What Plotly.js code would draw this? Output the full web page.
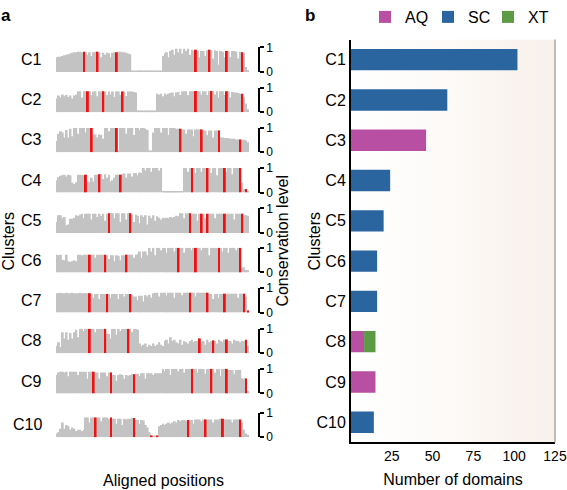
<!DOCTYPE html>
<html><head><meta charset="utf-8">
<script src="https://cdn.plot.ly/plotly-3.0.1.min.js"></script>
<style>html,body{margin:0;padding:0;background:#fff}#chart{width:567px;height:490px}</style>
</head><body><div id="chart"></div>
<script>
// ---------- Panel a: conservation profiles ----------
const clusters = ['C1','C2','C3','C4','C5','C6','C7','C8','C9','C10'];

const profC1 = [0.6,0.62,0.62,0.65, 0.68,0.7,0.72,0.75,0.78, 0.8,0.8,0.82,0.82,0.8, 0.82,
 0.8,0.7,0.8,0.65,0.8,0.82, 0.82, 0.78,0.6,0.78,0.7,0.78,0.76,0.6,0.78,0.8, 0.8,
 0.82,0.82,0.8,0.8,0.78,0.75,0.72, 0.03,0.03,0.03,0.03,0.03,0.03,0.03,0.03,0.03,0.03,0.03,0.03,0.03,0.03,0.03,0.03,
 0.65,0.75,0.8,0.6,0.85, 0.9,0.7,0.95,0.8,0.95,0.75,0.95,0.85,0.95,0.7,0.9,0.85, 0.9,
 0.85,0.6,0.85,0.85,0.65,0.88, 0.9, 0.88,0.55,0.88,0.85,0.3,0.85,0.82,0.6, 0.85,
 0.85,0.6,0.85,0.85,0.82,0.55,0.82, 0.8, 0.78,0.2,0.08];
const profC2 = [0.55,0.68,0.6,0.72,0.65, 0.7,0.62,0.68,0.55,0.68, 0.72,0.85,0.85,0.6,0.85,0.84, 0.85,
 0.85,0.7,0.84,0.84,0.65,0.85,0.84, 0.85, 0.84,0.7,0.84,0.72,0.84,0.62,0.84,0.84,0.7, 0.84,
 0.84,0.66,0.84,0.84,0.84,0.82,0.8, 0.03,0.03,0.03,0.03,0.03,0.03,0.03,0.03,0.03,0.03,
 0.75,0.72,0.75,0.65,0.76,0.7,0.75, 0.78,0.8,0.65,0.8,0.82,0.7,0.84, 0.85,0.85,0.7,0.85,0.85,0.85, 0.86,
 0.85,0.85,0.72,0.85,0.85,0.7,0.85, 0.86, 0.85,0.72,0.85,0.6,0.85,0.85,0.7, 0.85,
 0.84,0.6,0.82,0.8,0.8,0.78,0.75, 0.75, 0.6,0.35,0.12];
const profC3 = [0.45,0.75,0.85,0.8,0.6, 0.9,0.6,0.95,0.65, 0.98,0.98,0.75,0.98,0.98,0.98,0.8,0.98,0.98, 0.98,
 0.72,0.72,0.6,0.72,0.7,0.55, 0.98,0.98,0.85,0.98,0.98,0.98, 0.98, 0.05,
 0.98,0.98,0.98,0.75,0.98,0.98,0.98,0.7,0.98,0.98,0.9,0.98,0.98,0.95,0.9, 0.05,0.05,
 0.8,0.98,0.98,0.98,0.8,0.98,0.98,0.98,0.7,0.98,0.98,0.98,0.95,0.95, 0.95,
 0.92,0.92,0.75,0.92,0.92,0.92,0.65,0.92,0.92,0.92, 0.92,
 0.88,0.88,0.7,0.88,0.88,0.6,0.88,0.88, 0.88,
 0.6,0.6,0.58,0.58,0.58,0.55,0.55,0.55,0.52,0.52, 0.52, 0.5,0.5,0.48,0.4];
const profC4 = [0.5,0.62,0.68,0.7, 0.72,0.65,0.72,0.7, 0.4,0.35,0.42, 0.72,0.72,0.72,0.7, 0.72,
 0.45,0.42,0.6,0.45,0.72,0.72, 0.75, 0.75,0.55,0.75,0.6,0.72,0.45,0.5,0.6,0.72,0.72, 0.72,
 0.75,0.78,0.6,0.78,0.78,0.65,0.8,0.8,0.7,0.82,0.8, 1.0,0.9,1.0,1.0,0.85,1.0,1.0,1.0,0.9,1.0,
 0.03,0.03,0.03,0.03,0.03,0.03,0.03,0.03,0.03,0.03,0.03, 1.0,1.0,0.85,1.0, 1.0,
 1.0,0.8,1.0,1.0,0.85,1.0,1.0, 1.0, 1.0,0.8,1.0,1.0,0.7,1.0,1.0,1.0, 1.0,
 0.85,1.0,1.0,0.75,1.0,1.0,1.0, 1.0, 0.4,0.15,0.15,0.05];
const profC5 = [0.45,0.72,0.72,0.6, 0.65,0.32,0.35,0.58, 0.58,0.62,0.72,0.7, 0.75,0.78,0.6,0.78,0.78,
 0.78,0.55,0.78,0.78,0.65,0.78,0.7,0.78,0.5,0.78, 0.8, 0.8,0.8,0.6,0.8,0.8,0.45,0.8,0.8,0.55,0.8, 0.8,
 0.75,0.45,0.75,0.7,0.4,0.72,0.65,0.72,0.35,0.7,0.6,0.72,0.5,0.68,0.62,0.55,0.62,
 0.6,0.62,0.6,0.65,0.62,0.65,0.7,0.68,0.8,0.8,0.6, 0.8,0.8, 0.8, 0.7,0.78,0.78,0.5,0.78, 0.78,
 0.78,0.6, 0.78, 0.78,0.78,0.78,0.6,0.78,0.78,0.78,0.78, 0.78, 0.78,0.78,0.78,0.78,0.55,0.78,0.78,0.78, 0.78,
 0.72,0.72,0.7];
const profC6 = [0.72,0.7,0.72,0.52,0.5,0.72, 0.45,0.42,0.45,0.5,0.45, 0.72,0.72,0.7,0.72,0.72,0.72, 0.72,
 0.72,0.72,0.6,0.72,0.72,0.72,0.72, 0.72, 0.7,0.55,0.7,0.7,0.45,0.7,0.68,0.5,0.7,0.7, 0.72,
 0.72,0.72,0.72,0.6,0.72,0.75, 0.85,0.6,0.85,0.85,0.7,
 1.0,0.85,1.0,0.7,1.0,1.0,0.9,1.0,1.0,0.8,1.0,1.0,1.0,0.85,1.0, 1.0,
 1.0,1.0,0.8,1.0,1.0,1.0,0.9,1.0, 1.0, 1.0,1.0,0.9,1.0,1.0,1.0,0.7,1.0,1.0,1.0,1.0, 1.0,
 1.0,0.85,1.0,1.0,0.8,1.0,1.0,1.0,0.9,1.0, 1.0, 0.2,0.2,0.1,0.1];
const profC7 = [0.78,0.78,0.8,0.78,0.78,0.8,0.78,0.78,0.8,0.78,0.78,0.78,0.8,0.78,0.78,0.78,0.78, 0.78,
 0.75,0.6,0.75,0.75,0.55,0.75,0.75,0.75, 0.75, 0.75,0.6,0.75,0.75,0.75,0.55,0.75,0.75,0.65,0.75,0.75, 0.75,
 0.7,0.65,0.65,0.5,0.68,0.68,0.45,0.7,0.65,0.72,0.6,0.78,
 0.8,0.8,0.65,0.8,0.8,0.8,0.7,0.8,0.8,0.8,0.6,0.8,0.8,0.8,0.7,0.8,0.8,0.8, 0.8,
 0.8,0.8,0.65,0.8,0.8,0.8,0.8,0.8, 0.8, 0.75,0.75,0.55,0.75,0.75,0.6,0.75,0.75, 0.76,
 0.76,0.76,0.76,0.76,0.76,0.76,0.6,0.76,0.76, 0.76, 0.65, 0.08];
const profC8 = [0.3,0.45,0.25, 0.85,0.6,0.85,0.55,0.82,0.6, 0.85,0.95,0.65,1.0, 1.0,0.9,1.0,1.0, 1.0,
 1.0,1.0,0.85,1.0,1.0,1.0,1.0, 1.0, 0.8,0.78,0.6,1.0,1.0,0.75,1.0,0.9,1.0,1.0,1.0, 1.0,
 1.0,0.85,1.0,1.0,0.95, 0.4,0.3,0.35,0.4,0.25,0.35,0.3,0.4,0.3,0.35,0.45,0.35,0.3,
 0.5,0.55,0.4,0.65,0.5,0.55,0.45, 0.4,0.55,0.35,0.5,0.45,0.4,0.5,0.55,0.45,0.5,0.5, 0.6,
 0.45,0.5,0.35,0.55,0.45,0.5, 0.52, 0.5,0.4,0.55,0.5,0.45,0.55, 0.56,
 0.5,0.5,0.4,0.55,0.5,0.5,0.45,0.5,0.5, 0.55, 0.3];
const profC9 = [0.75,0.85, 0.88,0.88,0.85,0.88,0.7,0.88,0.88,0.88,0.88,0.75,0.88,0.88,0.88,0.88,0.6,0.88,0.88, 0.88,
 0.85,0.85,0.6,0.85,0.85,0.85,0.7,0.85, 0.85, 0.75,0.75,0.5,0.75,0.78,0.75,0.6,0.75,0.72,0.75,0.78, 0.78,
 0.8,0.8,0.7,0.82,0.82,0.6,0.82,0.82,0.82,0.75,0.82,0.82,0.82,0.82,
 1.0,0.9,1.0,1.0,0.75,1.0,1.0,1.0,0.9,1.0,1.0,0.85,1.0,1.0,1.0, 1.0,
 1.0,1.0,0.85,1.0,1.0,1.0,0.8,1.0,1.0, 1.0, 1.0,0.85,1.0,1.0,0.7,1.0,1.0, 1.0,
 0.95,0.95,0.95,0.8,0.95,0.95,0.95,0.6, 0.6, 0.6, 0.1];
const profC10 = [0.15,0.2,0.35, 0.6,0.35,0.5,0.45, 0.3,0.4,0.35,0.25,0.3, 0.3,0.25,0.3, 0.8,0.8,0.6,0.8,0.8, 0.8,
 0.8,0.8,0.65,0.8,0.8,0.8,0.75, 0.8, 0.75,0.75,0.55,0.75,0.75,0.5,0.75,0.72,0.75,0.75,0.78, 0.78,
 0.7,0.7,0.55,0.7,0.68,0.5,0.4, 0.2, 0.07, 0.05,0.05, 0.07,
 0.45,0.5,0.55,0.5,0.55,0.6,0.55,0.6,0.65,0.6,0.7,0.65,0.7,0.7,0.68, 0.7,
 0.7,0.7,0.55,0.72,0.72,0.72,0.65,0.72, 0.72, 0.72,0.72,0.72,0.6,0.72,0.72,0.72,0.75, 0.75,
 0.72,0.72,0.72,0.72,0.6,0.72,0.72,0.72, 0.72, 0.6,0.3,0.15,0.1];

// positions (alignment columns) carrying the red marks
const redC1 = [14,21,31,72,79,88,96];
const redC2 = [16,24,34,72,80,88,96];
const redC3 = [18,31,64,75,84,95];
const redC4 = [15,22,33,70,78,87,95,98];
const redC5 = [27,38,69,75,78,87,96];
const redC6 = [17,25,36,63,72,84,95];
const redC7 = [17,26,38,69,78,87,97,99];
const redC8 = [17,25,37,74,81,88,98];
const redC9 = [19,28,40,70,80,88,98];
const redC10 = [20,28,40,49,52,68,77,86,95];

const profiles = [profC1,profC2,profC3,profC4,profC5,profC6,profC7,profC8,profC9,profC10];
const reds = [redC1,redC2,redC3,redC4,redC5,redC6,redC7,redC8,redC9,redC10];

// ---------- Panel b: number of domains ----------
const seriesNames = ['AQ','SC','XT'];
const AQ = [0,0,46,0,0,0,0,8,15,0];
const SC = [102,59,0,24,20,16,16,0,0,14];
const XT = [0,0,0,0,0,0,0,7,0,0];
const xTicks = [25,50,75,100,125];

// ---------- layout helpers (pixel geometry) ----------
const W = 567, H = 490;
const FONT = 'Liberation Sans, Arial, sans-serif';
const px = v => v / W;
const py = v => 1 - v / H;
const rowBase = [66,106.7,147.3,188.3,229.3,269.3,310,351.3,392,436.5];
const rowH = 25;

const data = [];
const layout = {
  width: W, height: H, autosize: false,
  margin: {l:0, r:0, t:0, b:0},
  paper_bgcolor: '#fff', plot_bgcolor: 'rgba(0,0,0,0)',
  barmode: 'overlay',
  font: {family: FONT, color: '#000', size: 14},
  showlegend: true,
  xaxis: {domain: [px(56), px(258)], range: [-0.5, 104.2], visible: false, fixedrange: true},
  annotations: [], shapes: [], images: []
};

profiles.forEach((prof, i) => {
  const ya = i === 0 ? 'y' : 'y' + (i + 1);
  const key = i === 0 ? 'yaxis' : 'yaxis' + (i + 1);
  const pos = prof.map((_, k) => k);
  data.push({type: 'bar', x: pos, y: prof, width: 1, xaxis: 'x', yaxis: ya,
             marker: {color: '#c3c3c3', line: {width: 0}}, showlegend: false, hoverinfo: 'skip'});
  data.push({type: 'bar', x: reds[i], y: reds[i].map(k => prof[k]), width: 1, xaxis: 'x', yaxis: ya,
             marker: {color: '#f21010', line: {width: 0}}, showlegend: false, hoverinfo: 'skip'});
  layout[key] = {
    domain: [py(rowBase[i]), py(rowBase[i] - rowH)], range: [0, 1], anchor: 'x', side: 'right',
    showline: true, linecolor: '#000', linewidth: 1.5, ticks: 'outside', ticklen: 4, tickwidth: 1.5,
    tickcolor: '#000', tickvals: [0, 1], ticktext: ['0', '1'], tickfont: {size: 12},
    showgrid: false, zeroline: false, fixedrange: true
  };
  layout.annotations.push({text: clusters[i], xref: 'paper', x: px(44), xanchor: 'right',
    yref: ya + ' domain', y: 0.5, yanchor: 'middle', showarrow: false, font: {size: 16}});
});

// panel b traces (stacked through explicit bases), one legend box per series
const colors = {AQ: '#b84fa2', SC: '#2b65a0', XT: '#5c9a44'};
const seriesVals = {AQ: AQ, SC: SC, XT: XT};
const legendX = [365, 428, 488];
let running = clusters.map(() => 0);
seriesNames.forEach((name, j) => {
  const vals = seriesVals[name];
  const lg = j === 0 ? 'legend' : 'legend' + (j + 1);
  data.push({type: 'bar', orientation: 'h', name: name, y: clusters, x: vals, base: running.slice(),
             width: 0.53, xaxis: 'x2', yaxis: 'y11', legend: lg,
             marker: {color: colors[name], line: {width: 0}}, hoverinfo: 'skip'});
  layout[lg] = {orientation: 'h', x: px(legendX[j]), y: py(10), xanchor: 'left', yanchor: 'middle',
                font: {size: 16, family: FONT}, bgcolor: 'rgba(0,0,0,0)'};
  running = running.map((r, k) => r + vals[k]);
});

layout.xaxis2 = {domain: [px(351), px(555)], range: [0, 125], anchor: 'y11',
  showline: true, linecolor: '#000', linewidth: 2, ticks: '',
  tickvals: xTicks, tickfont: {size: 14}, showgrid: false, zeroline: false, fixedrange: true,
  title: {text: 'Number of domains', font: {size: 16}, standoff: 11}};
layout.yaxis11 = {domain: [py(441.7), py(33)], type: 'category', categoryarray: clusters,
  range: [9.5, -0.5], anchor: 'x2', showline: true, linecolor: '#000', linewidth: 2,
  ticks: '', tickfont: {size: 16}, showgrid: false, zeroline: false, fixedrange: true};

// gradient background of panel b
const svg = '<svg xmlns="http://www.w3.org/2000/svg" width="100" height="100" preserveAspectRatio="none">' +
  '<defs><linearGradient id="g" x1="0" x2="1" y1="0" y2="0">' +
  '<stop offset="0" stop-color="rgb(255,255,255)"/><stop offset="0.4" stop-color="rgb(253,251,249)"/>' +
  '<stop offset="1" stop-color="rgb(248,240,234)"/></linearGradient></defs>' +
  '<rect width="100" height="100" fill="url(#g)"/></svg>';
layout.images.push({source: 'data:image/svg+xml;charset=utf-8,' + encodeURIComponent(svg),
  xref: 'paper', yref: 'paper', x: px(351), y: py(33), sizex: px(555) - px(351), sizey: py(33) - py(441.7),
  xanchor: 'left', yanchor: 'top', sizing: 'stretch', layer: 'below'});
layout.shapes.push({type: 'line', xref: 'x2 domain', yref: 'y11 domain', x0: 1, x1: 1, y0: 0, y1: 1,
  line: {color: '#a8a8a8', width: 1.5}});

// panel letters and titles
layout.annotations.push(
  {text: '<b>a</b>', xref: 'paper', yref: 'paper', x: px(-1), y: py(9), xanchor: 'left', yanchor: 'middle',
   showarrow: false, font: {size: 17}},
  {text: '<b>b</b>', xref: 'paper', yref: 'paper', x: px(303), y: py(9), xanchor: 'left', yanchor: 'middle',
   showarrow: false, font: {size: 17}},
  {text: 'Clusters', xref: 'paper', yref: 'paper', x: px(9), y: py(238), textangle: -90,
   xanchor: 'center', yanchor: 'middle', showarrow: false, font: {size: 16}},
  {text: 'Conservation level', xref: 'paper', yref: 'paper', x: px(283), y: py(237), textangle: -90,
   xanchor: 'center', yanchor: 'middle', showarrow: false, font: {size: 16}},
  {text: 'Aligned positions', xref: 'paper', yref: 'paper', x: px(163), y: py(480),
   xanchor: 'center', yanchor: 'middle', showarrow: false, font: {size: 16}},
  {text: 'Clusters', xref: 'paper', yref: 'paper', x: px(315), y: py(238), textangle: -90,
   xanchor: 'center', yanchor: 'middle', showarrow: false, font: {size: 16}}
);

Plotly.newPlot('chart', data, layout, {displayModeBar: false});
</script></body></html>
